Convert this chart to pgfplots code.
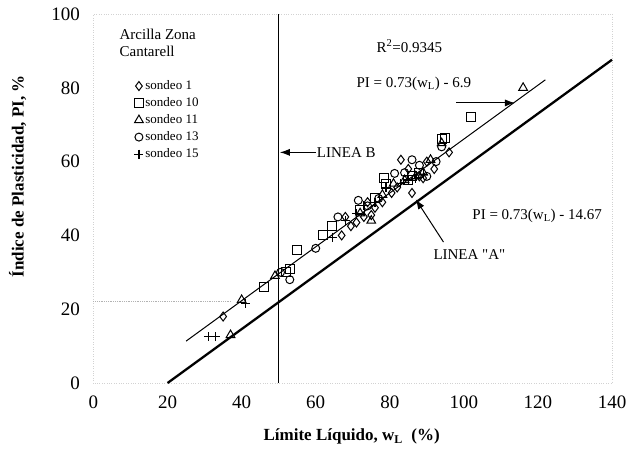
\documentclass[border=0pt]{standalone}
\usepackage{fontspec}
\setmainfont{Liberation Serif}
\usepackage{pgfplots}
\pgfplotsset{compat=1.18}
\usetikzlibrary{arrows.meta}
\begin{document}
\begin{tikzpicture}
\begin{axis}[
    scale only axis,
    width=518.5pt, height=369pt,
    xmin=0, xmax=140, ymin=0, ymax=100,
    xtick={0,20,...,140}, ytick={0,20,...,100},
    major tick length=0pt,
    axis line style={gray!35, dotted},
    tick label style={font=\fontsize{19}{22}\selectfont},
    /pgf/number format/assume math mode=true,
    xticklabel style={yshift=-9pt},
    yticklabel style={xshift=-10pt},
    xlabel={\bfseries Límite Líquido, w\textsubscript{L}\ \ (\%)},
    ylabel={\bfseries Índice de Plasticidad, PI, \%},
    every axis x label/.style={at={(axis cs:69.7,-14.6)}, anchor=center, font=\fontsize{17}{20}\selectfont},
    every axis y label/.style={at={(axis cs:-20.5,56)}, rotate=90, anchor=center, font=\fontsize{17}{20}\selectfont},
    clip=false,
    legend cell align=left,
    legend style={at={(axis cs:11,82.5)}, anchor=north west, draw=none, fill=none,
        font=\fontsize{13}{15}\selectfont, row sep=2.5pt, inner sep=0pt},
]
% LINEA B
\addplot[black, line width=1.2pt, forget plot] coordinates {(50,0) (50,100)};
% LINEA A: PI = 0.73(wL - 20)
\addplot[black, line width=2.3pt, forget plot] coordinates {(20,0) (140,87.6)};
% ajuste: PI = 0.73 wL - 6.9
\addplot[black, line width=1pt, forget plot] coordinates {(25,11.35) (122,82.16)};
% linea punteada residual
\addplot[gray!60, densely dotted, line width=0.8pt, forget plot] coordinates {(0,22) (37,22)};

\addplot[only marks, mark=diamond, mark size=4.5pt, mark options={black, line width=1pt}] coordinates {
 (35,18) (67,40) (69.5,42.5) (68,45) (73,45) (76,47.5) (74,49) (80.5,51.5) (83,60.5)
 (86,51.5) (90,60) (96,62.5) (78,49) (88,56) (85,58) (92,58) (82,53) (89,55.5) (75,45.5) (71,43.5)
};
\addplot[only marks, mark=square, mark size=4.5pt, mark options={black, line width=1pt}] coordinates {
 (46,26) (53,31) (52,30) (55,36) (62,40) (64.5,42.5) (78.5,55.5) (79,54) (94,66) (95,66.5)
 (102,72) (86,56) (88,57) (85,55) (76,50) (72,47)
};
\addplot[only marks, mark=triangle, mark size=5pt, mark options={black, line width=1pt}] coordinates {
 (37,13) (40,22.5) (49,29) (75,44) (94,65) (116,80) (91,60.5) (87,56) (89,57) (84,55)
 (78,51) (72,46) (81,54)
};
\addplot[only marks, mark=o, mark size=4pt, mark options={black, line width=1pt}] coordinates {
 (53,28) (50.5,30) (60,36.5) (66,45) (71.5,49.5) (81.3,56.8) (86,60.5) (88,59) (92.5,60)
 (94,64) (77,50) (84,57) (74,48) (90,56)
};
\addplot[only marks, mark=+, mark size=4.5pt, mark options={black, line width=1.2pt}] coordinates {
 (31,12.5) (33,12.5) (41,21.5) (64.5,39.5) (71,46) (79,53) (85,55) (87,55.5) (89,56.5)
 (73,48) (76,49) (83,54) (68,44)
};
\legend{sondeo 1, sondeo 10, sondeo 11, sondeo 13, sondeo 15}

% textos y flechas
\node[anchor=north west, align=left, font=\fontsize{15}{17}\selectfont, inner sep=0pt]
    at (axis cs:7,96) {Arcilla Zona\\Cantarell};
\node[font=\fontsize{15}{17}\selectfont] at (axis cs:85.3,91.3) {R\textsuperscript{2}=0.9345};
\node[font=\fontsize{15}{17}\selectfont] at (axis cs:86.5,81) {PI = 0.73(w\textsubscript{L}) - 6.9};
\draw[-{Latex[length=10pt,width=7pt]}, line width=1pt] (axis cs:98,75.9) -- (axis cs:113.8,75.9);
\node[anchor=west, font=\fontsize{15}{17}\selectfont, inner sep=1pt] at (axis cs:60,62.5) {LINEA B};
\draw[-{Latex[length=10pt,width=7pt]}, line width=1pt] (axis cs:60,62.5) -- (axis cs:50.3,62.5);
\node[font=\fontsize{15}{17}\selectfont] at (axis cs:119.8,45.3) {PI = 0.73(w\textsubscript{L}) - 14.67};
\draw[-{Latex[length=10pt,width=7pt]}, line width=1pt] (axis cs:94.5,38.2) -- (axis cs:87,49.8);
\node[font=\fontsize{15}{17}\selectfont] at (axis cs:101.5,34.7) {LINEA \textquotedbl A\textquotedbl};
\end{axis}
\pgfresetboundingbox
\path (-93.5pt,-72pt) rectangle (535.5pt,383pt);
\end{tikzpicture}
\end{document}
